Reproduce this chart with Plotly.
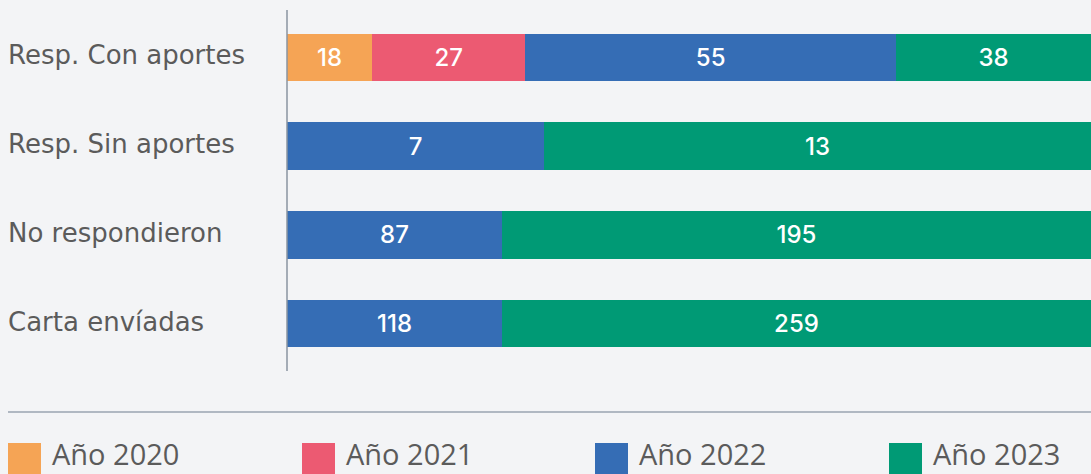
import plotly.graph_objects as go

categories = ["Resp. Con aportes", "Resp. Sin aportes", "No respondieron", "Carta envíadas"]
series_names = ["Año 2020", "Año 2021", "Año 2022", "Año 2023"]
colors = ["#F5A455", "#EC5A72", "#356DB5", "#009A75"]

# displayed counts (bar labels)
labels_2020 = [18, None, None, None]
labels_2021 = [27, None, None, None]
labels_2022 = [55, 7, 87, 118]
labels_2023 = [38, 13, 195, 259]

# bar lengths as share of the row (%)
share_2020 = [10.57, None, None, None]
share_2021 = [19.07, None, None, None]
share_2022 = [46.10, 31.97, 26.74, 26.74]
share_2023 = [24.26, 68.03, 73.26, 73.26]

labels = [labels_2020, labels_2021, labels_2022, labels_2023]
shares = [share_2020, share_2021, share_2022, share_2023]

W, H = 1091, 474
L, R, T, B = 287, 0, 10, 103
pw, ph = W - L - R, H - T - B

def px_x(x):
    return (x - L) / pw

def px_y(y):
    return (H - B - y) / ph

fig = go.Figure()
for name, col, sh, lab in zip(series_names, colors, shares, labels):
    fig.add_trace(go.Bar(
        y=categories, x=sh, orientation="h", name=name,
        marker=dict(color=col, line=dict(width=0)),
        text=[("" if v is None else str(v)) for v in lab],
        textposition="inside", insidetextanchor="middle",
        textfont=dict(color="white", size=24, family="Inter", weight=500),
        hoverinfo="skip", showlegend=False,
    ))

annotations = []
for i, c in enumerate(categories):
    annotations.append(dict(
        xref="paper", yref="y", x=px_x(6), y=c, xanchor="left", yanchor="middle",
        yshift=2, text=c, showarrow=False,
        font=dict(family="DejaVu Sans", size=26, color="#5b5b5b"),
    ))

shapes = [
    dict(type="line", xref="paper", yref="paper", x0=0, x1=0, y0=0, y1=1,
         line=dict(color="#8a94a0", width=1.5)),
    dict(type="line", xref="paper", yref="paper", x0=px_x(8), x1=1, y0=px_y(412), y1=px_y(412),
         line=dict(color="#9aa4b0", width=1.5)),
]
leg_x = [8, 302, 595, 889]
for x0, name, col in zip(leg_x, series_names, colors):
    shapes.append(dict(type="rect", xref="paper", yref="paper",
                       x0=px_x(x0), x1=px_x(x0 + 33), y0=px_y(443), y1=px_y(478),
                       fillcolor=col, line=dict(width=0)))
    annotations.append(dict(
        xref="paper", yref="paper", x=px_x(x0 + 43), y=px_y(474), xanchor="left", yanchor="bottom",
        borderpad=0, text=name, showarrow=False,
        font=dict(family="Open Sans", size=29, color="#5b5b5b"),
    ))

fig.update_layout(
    width=W, height=H, barmode="stack", bargap=0.47,
    margin=dict(l=L, r=R, t=T, b=B),
    paper_bgcolor="#F3F4F6", plot_bgcolor="#F3F4F6",
    xaxis=dict(range=[0, 100], visible=False, fixedrange=True),
    yaxis=dict(categoryorder="array", categoryarray=categories, range=[3.53, -0.53],
               showticklabels=False, showgrid=False, zeroline=False, showline=False, ticks=""),
    shapes=shapes, annotations=annotations, showlegend=False,
)

fig.write_html("out.html")
